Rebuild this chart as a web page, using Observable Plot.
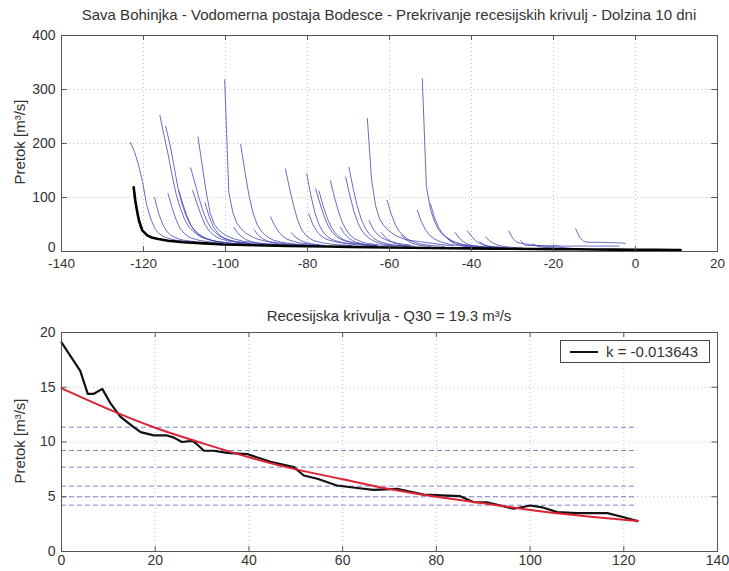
<!DOCTYPE html>
<html><head><meta charset="utf-8">
<script src="https://cdn.jsdelivr.net/npm/d3@7"></script>
<script src="https://cdn.jsdelivr.net/npm/@observablehq/plot@0.6"></script>
<style>
body{margin:0;background:#fff;font-family:"Liberation Sans",Arial,Helvetica,sans-serif;}
#wrap{position:relative;width:729px;height:571px;overflow:hidden;background:#fff;}
.ttl{position:absolute;font-size:15px;color:#333;white-space:nowrap;transform:translate(-50%,-50%);}
.ylab{position:absolute;font-size:15px;color:#333;white-space:nowrap;transform:translate(-50%,-50%) rotate(-90deg);}
.plot{position:absolute;left:0;}
#legend{position:absolute;left:560px;top:340px;width:148px;height:21px;border:1px solid #444;background:#fff;font-size:15px;color:#333;}
#legend .ln{position:absolute;left:9px;top:10px;width:28px;height:0;border-top:2px solid #111;}
#legend .tx{position:absolute;left:45px;top:2px;white-space:nowrap;}
</style></head><body>
<div id="wrap">
  <div class="ttl" style="left:389px;top:14px">Sava Bohinjka - Vodomerna postaja Bodesce - Prekrivanje recesijskih krivulj - Dolzina 10 dni</div>
  <div class="ylab" style="left:19px;top:142px">Pretok [m³/s]</div>
  <div class="ttl" style="left:389px;top:315px">Recesijska krivulja - Q30 = 19.3 m³/s</div>
  <div class="ylab" style="left:19px;top:441px">Pretok [m³/s]</div>
</div>
<script>
// ---------- DATA ----------
// Top panel: tick values
const topXTicks = [-140, -120, -100, -80, -60, -40, -20, 0, 20];
const topYTicks = [0, 100, 200, 300, 400];
// Start day (shifted) of each overlapped recession curve
const curveStart = [-123.2, -117.3, -116, -114.6, -114, -111.4, -108.5, -108, -106.7, -105,
  -100.2, -98, -96.3, -93, -89, -85.4, -84, -80.2, -79.7, -78, -77.2, -74.4, -72, -70.7, -69.9,
  -65.4, -65, -62, -60.6, -57, -53.2, -52, -50, -46, -44, -41, -38, -36.6, -30.9, -28, -25, -20, -14.6];
// Daily discharge values of each recession curve (m3/s)
const curveValues = [
  [202, 185, 160, 128, 85, 60, 42, 33, 28, 25, 23, 21, 20, 19, 18, 17, 16, 15.5, 15, 14.5, 14, 13.5],
  [100, 70, 50, 37, 30, 26, 23, 21, 20, 19, 18, 17, 16, 15.5, 15],
  [252, 215, 180, 140, 105, 80, 60, 46, 38, 32, 27, 24, 22, 20, 18, 17, 16, 15, 14.5, 14, 13.5, 13],
  [232, 200, 160, 118, 88, 66, 50, 40, 33, 28, 24, 21, 19, 18, 17, 16, 15, 14.5, 14, 13.5],
  [107, 80, 58, 42, 33, 27, 24, 22, 20, 19, 18, 17, 16, 15],
  [112, 88, 66, 48, 37, 30, 26, 23, 21, 19, 18, 17, 16, 15, 14.5, 14],
  [155, 128, 100, 75, 56, 43, 35, 29, 25, 22, 20, 18, 17, 16, 15, 14.5, 14, 13.5, 13],
  [113, 90, 68, 50, 38, 31, 26, 23, 21, 19, 18, 17, 16, 15, 14],
  [212, 160, 110, 70, 50, 40, 34, 29, 26, 23, 21, 19, 18, 17, 16, 15, 14.5, 14, 13.5, 13, 12.5],
  [90, 65, 46, 35, 28, 24, 21, 19, 18, 17, 16, 15],
  [318, 110, 72, 52, 42, 35, 30, 26, 23, 21, 19, 18, 17, 16, 15, 14, 13.5, 13, 12.5, 12, 11.5, 11],
  [45, 34, 27, 22, 19, 17, 16, 15, 14, 13.5, 13],
  [198, 150, 105, 72, 50, 38, 30, 25, 21, 19, 17, 16, 15, 14, 13.5, 13, 12.5, 12, 11.5],
  [40, 30, 24, 20, 17, 15, 14, 13, 12.5, 12],
  [64, 48, 36, 28, 23, 20, 18, 16, 15, 14, 13, 12.5, 12],
  [153, 118, 85, 58, 40, 30, 24, 20, 18, 16, 15, 14, 13, 12.5, 12, 11.5, 11],
  [35, 27, 22, 18, 16, 14, 13, 12, 11.5],
  [144, 105, 72, 50, 36, 28, 23, 20, 18, 16, 15, 14, 13, 12, 11.5, 11, 10.5],
  [70, 50, 37, 29, 24, 21, 19, 17, 16, 15, 14, 13],
  [116, 90, 66, 48, 36, 28, 23, 20, 18, 16, 15, 14, 13, 12, 11.5, 11],
  [112, 85, 62, 45, 34, 27, 22, 19, 17, 15, 14, 13, 12, 11.5, 11],
  [131, 100, 73, 52, 38, 29, 23, 20, 17, 15, 14, 13, 12, 11.5, 11, 10.5],
  [45, 33, 25, 20, 17, 15, 13, 12, 11.5, 11],
  [138, 105, 75, 53, 38, 29, 23, 19, 16, 14, 13, 12, 11.5, 11, 10.5, 10],
  [156, 118, 85, 60, 43, 32, 25, 20, 17, 15, 13, 12, 11, 10.5, 10, 9.5],
  [246, 135, 85, 60, 48, 40, 34, 29, 26, 23, 21, 20, 19, 18, 17, 16, 15, 14, 13, 12, 11, 10.5],
  [57, 42, 32, 26, 22, 19, 17, 15, 14, 13, 12],
  [35, 26, 20, 16, 14, 12, 11, 10.5, 10],
  [95, 70, 50, 37, 29, 23, 19, 16, 14, 13, 12, 11, 10.5, 10, 9.5],
  [30, 22, 17, 14, 12, 11, 10, 9.5],
  [76, 55, 40, 30, 24, 20, 17, 15, 13, 12, 11, 10.5, 10, 9.5],
  [320, 120, 78, 55, 40, 31, 25, 20, 17, 15, 13, 12, 11, 10, 9.5, 9, 8.7, 8.4, 8.2, 8],
  [88, 62, 44, 33, 26, 21, 17, 14, 12, 11, 10, 9.5, 9, 8.5],
  [25, 18, 14, 12, 10, 9, 8, 7.6, 7.3],
  [35, 25, 18, 14, 11, 10, 9, 8, 7.5, 7.2],
  [38, 28, 20, 15, 12, 10, 9, 8, 7.5, 7],
  [18, 13, 10, 9, 8, 7.5, 7, 6.8],
  [27, 20, 15, 12, 10, 9, 8, 7.5, 7, 6.7],
  [38, 24, 17, 15, 14, 13, 12, 11, 10.5, 10, 9.5, 9],
  [20, 12, 11, 11, 11, 11, 10.5, 10.5, 10.5, 10.5, 10, 10, 10, 10, 10, 10, 10, 10, 10, 10, 10, 10, 10, 10, 10],
  [14, 10, 8.5, 7.5, 7, 6.5, 6.2, 6],
  [12, 9, 7.5, 6.5, 6, 5.5, 5.2, 5],
  [42, 26, 19, 17, 17, 17, 17, 17, 16.5, 16.5, 16, 16, 15]
];
// Master recession curve (black, thick)
const masterX = [-122.4, -122, -121.5, -121.1, -120.3, -119.1, -118, -116.7, -114, -110.2, -105, -100.4, -95, -90, -85, -80, -75, -70, -65, -60, -55, -50, -45, -40, -35, -30, -25, -20, -15, -10, -5, 0, 5, 10, 11];
const masterQ = [119, 94, 72, 57, 39, 30, 26, 23.5, 20, 17, 15, 13, 12, 11.2, 10.5, 9.8, 9.2, 8.6, 8, 7.5, 7, 6.5, 6.1, 5.7, 5.3, 5, 4.7, 4.4, 4.1, 3.8, 3.5, 3.2, 3, 2.8, 2.7];

// Bottom panel
const botXTicks = [0, 20, 40, 60, 80, 100, 120, 140];
const botYTicks = [0, 5, 10, 15, 20];
const recX = [0, 2, 4, 5.6, 6.9, 8.7, 10.5, 12.6, 15.4, 16.9, 19.7, 22.5, 24, 25.7, 27.9, 28.9, 30.4, 32.5, 35.3, 39.6, 44.6, 49.6, 51.7, 54.6, 58.8, 63.1, 66.6, 71.6, 77.3, 85.1, 88, 90.8, 96.5, 100.1, 102.9, 105.8, 110, 116.5, 120, 122.9];
const recQ = [19.1, 17.8, 16.5, 14.4, 14.4, 14.85, 13.5, 12.3, 11.35, 10.9, 10.6, 10.6, 10.4, 10.0, 10.1, 9.8, 9.2, 9.2, 9.0, 8.9, 8.2, 7.7, 6.94, 6.64, 6.03, 5.8, 5.63, 5.72, 5.2, 5.05, 4.5, 4.5, 3.9, 4.2, 4.0, 3.6, 3.5, 3.5, 3.13, 2.77];
const fitX = [0, 10, 20, 30, 40, 50, 60, 70, 80, 90, 100, 110, 120, 123];
const fitQ = [14.9, 13.0, 11.3, 9.9, 8.6, 7.5, 6.6, 5.7, 5.0, 4.4, 3.8, 3.3, 2.9, 2.8];
const levelQ = [11.35, 9.22, 7.7, 5.97, 5.0, 4.23];
const levelEnd = 123;
const kLabel = "k = -0.013643";

// ---------- BUILD ----------
const wrap = document.getElementById("wrap");
const font = {fontFamily: '"Liberation Sans", Arial, Helvetica, sans-serif', fontSize: "14px", color: "#333", background: "transparent", overflow: "visible"};
const grid = {stroke: "#999", strokeOpacity: 0.6, strokeDasharray: "1,3", strokeWidth: 1};
const fmt = d => String(d);

const curveRows = [];
curveStart.forEach((s, id) => curveValues[id].forEach((q, i) => curveRows.push({id, x: s + i, q})));
const masterRows = masterX.map((x, i) => ({x, q: masterQ[i]}));

const topPlot = Plot.plot({
  width: 729, height: 275,
  marginLeft: 61, marginRight: 12, marginTop: 35, marginBottom: 24,
  style: font,
  x: {domain: [-140, 20]},
  y: {domain: [0, 400]},
  marks: [
    Plot.ruleX(topXTicks.slice(1, -1), grid),
    Plot.ruleY(topYTicks.slice(1, -1), {...grid, x1: -140, x2: 20}),
    Plot.line(curveRows, {x: "x", y: "q", z: "id", stroke: "#3c3cb4", strokeWidth: 0.9, strokeOpacity: 0.85}),
    Plot.line(masterRows, {x: "x", y: "q", stroke: "#000", strokeWidth: 2.6}),
    Plot.ruleX(topXTicks, {y1: 0, y2: 9, stroke: "#555"}),
    Plot.ruleX(topXTicks, {y1: 391, y2: 400, stroke: "#555"}),
    Plot.ruleY(topYTicks, {x1: -140, x2: -138.6, stroke: "#555"}),
    Plot.ruleY(topYTicks, {x1: 18.6, x2: 20, stroke: "#555"}),
    Plot.frame({stroke: "#555"}),
    Plot.axisX(topXTicks, {tickSize: 0, tickPadding: 7, tickFormat: fmt, label: null, fontSize: 13.5}),
    Plot.axisY(topYTicks.slice(1), {tickSize: 0, tickPadding: 6, tickFormat: fmt, label: null}),
    Plot.axisY([0], {tickSize: 0, tickPadding: 6, tickFormat: fmt, label: null, dy: -4})
  ]
});
topPlot.classList.add("plot");
topPlot.style.top = "0px";
wrap.appendChild(topPlot);

const recRows = recX.map((x, i) => ({x, q: recQ[i]}));
const fitRows = fitX.map((x, i) => ({x, q: fitQ[i]}));

const botPlot = Plot.plot({
  width: 729, height: 286,
  marginLeft: 61, marginRight: 12, marginTop: 47, marginBottom: 20,
  style: font,
  x: {domain: [0, 140]},
  y: {domain: [0, 20]},
  marks: [
    Plot.ruleX(botXTicks.slice(1, -1), grid),
    Plot.ruleY(botYTicks.slice(1, -1), {...grid, x1: 0, x2: 140}),
    Plot.ruleY(levelQ, {x1: 0, x2: levelEnd, stroke: "#4455bb", strokeWidth: 0.9, strokeDasharray: "5,3", strokeOpacity: 0.8}),
    Plot.line(recRows, {x: "x", y: "q", stroke: "#111", strokeWidth: 2.2}),
    Plot.line(fitRows, {x: "x", y: "q", stroke: "#dd2233", strokeWidth: 2, curve: "natural"}),
    Plot.ruleX(botXTicks, {y1: 0, y2: 0.45, stroke: "#555"}),
    Plot.ruleX(botXTicks, {y1: 19.55, y2: 20, stroke: "#555"}),
    Plot.ruleY(botYTicks, {x1: 0, x2: 1.2, stroke: "#555"}),
    Plot.ruleY(botYTicks, {x1: 138.8, x2: 140, stroke: "#555"}),
    Plot.frame({stroke: "#555"}),
    Plot.axisX(botXTicks, {tickSize: 0, tickPadding: 4, tickFormat: fmt, label: null}),
    Plot.axisY(botYTicks, {tickSize: 0, tickPadding: 6, tickFormat: fmt, label: null})
  ]
});
botPlot.classList.add("plot");
botPlot.style.top = "285px";
wrap.appendChild(botPlot);

const leg = document.createElement("div");
leg.id = "legend";
leg.innerHTML = '<div class="ln"></div><div class="tx"></div>';
leg.querySelector(".tx").textContent = kLabel;
wrap.appendChild(leg);
</script>
</body></html>
